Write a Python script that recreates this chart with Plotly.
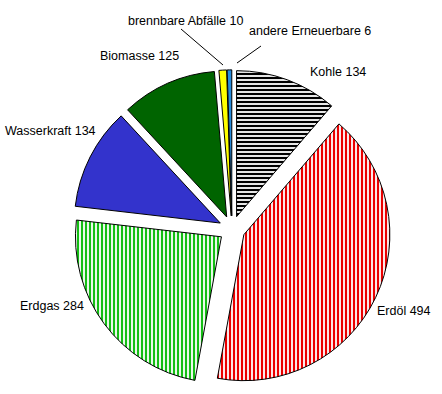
import plotly.graph_objects as go

W, H = 442, 394

# Data
categories = ["Kohle", "Erdöl", "Erdgas", "Wasserkraft", "Biomasse",
              "brennbare Abfälle", "andere Erneuerbare"]
values = [134, 494, 284, 134, 125, 10, 6]

# Styles
base_colors = ["white", "white", "white", "rgb(51,51,204)", "rgb(0,100,0)",
               "rgb(255,255,0)", "rgb(40,140,220)"]
pattern_shapes = ["-", "|", "|", "", "", "", ""]
pattern_fg = ["black", "rgb(235,0,0)", "rgb(20,190,20)", "black", "black", "black", "black"]

# Label placement (pixel positions of left edge / vertical middle)
label_pos = [(309, 72), (376, 311), (19, 306), (4, 131), (99, 56), (127, 21), (248, 31)]
leader_lines = [((181, 29), (223, 65)), ((261, 46), (237, 63))]

pull = 0.09
r = 146
cx, cy = 232, 229
half = r * (1 + pull)

fig = go.Figure(go.Pie(
    labels=categories,
    values=values,
    sort=False,
    direction="clockwise",
    rotation=0,
    pull=[pull] * len(values),
    textinfo="none",
    hoverinfo="label+value",
    marker=dict(
        colors=base_colors,
        line=dict(color="black", width=1),
        pattern=dict(shape=pattern_shapes, fgcolor=pattern_fg,
                     bgcolor=base_colors, size=4, solidity=0.55),
    ),
    domain=dict(x=[(cx - half) / W, (cx + half) / W],
                y=[(H - (cy + half)) / H, (H - (cy - half)) / H]),
    showlegend=False,
))

annotations = []
for cat, val, (px, py) in zip(categories, values, label_pos):
    annotations.append(dict(
        x=px / W, y=1 - py / H, xref="paper", yref="paper",
        text=f"{cat} {val}", showarrow=False, xanchor="left", yanchor="middle",
        xshift=-1,
        font=dict(family="Liberation Sans, Arial, sans-serif", size=12.5, color="black"),
    ))

shapes = []
for (x0, y0), (x1, y1) in leader_lines:
    shapes.append(dict(type="line", xref="paper", yref="paper",
                       x0=x0 / W, y0=1 - y0 / H, x1=x1 / W, y1=1 - y1 / H,
                       line=dict(color="black", width=1)))

fig.update_layout(
    width=W, height=H,
    margin=dict(l=0, r=0, t=0, b=0),
    paper_bgcolor="white", plot_bgcolor="white",
    annotations=annotations, shapes=shapes,
)

fig.write_html("out.html", config={"displayModeBar": False},
               post_script="document.body.style.margin='0';")
